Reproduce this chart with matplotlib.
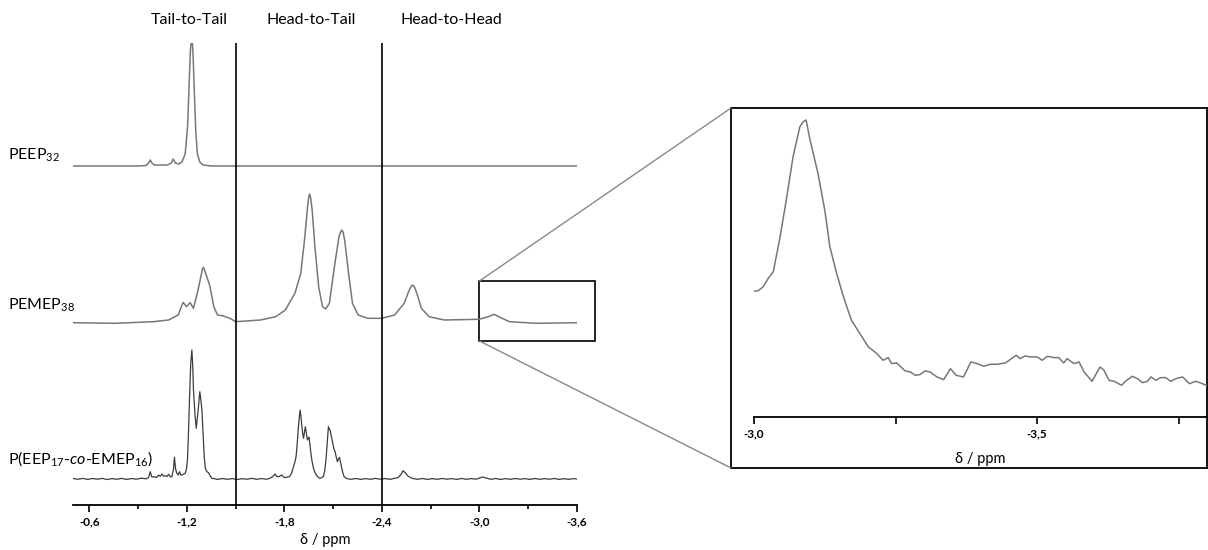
import numpy as np
import matplotlib.pyplot as plt
from matplotlib.patches import Rectangle, ConnectionPatch

plt.rcParams['font.family'] = ['Lato', 'DejaVu Sans']
plt.rcParams['mathtext.fontset'] = 'custom'
plt.rcParams['mathtext.rm'] = 'Lato'
plt.rcParams['mathtext.it'] = 'Lato:italic'
plt.rcParams['mathtext.default'] = 'regular'

# 31P NMR spectra, chemical shift (ppm) and intensity (a.u.)
peep_ppm = [-0.50, -0.90, -0.95, -0.965, -0.975, -0.985, -1.00, -1.08, -1.105, -1.116, -1.13,
            -1.15, -1.17, -1.19, -1.205, -1.215, -1.222, -1.228, -1.231, -1.234, -1.240,
            -1.245, -1.255, -1.265, -1.28, -1.30, -1.35, -3.60]
peep_int = [0, 0, 0.5, 3, 6, 3, 1, 1, 3, 7, 3,
            2, 4, 12, 40, 85, 115, 126, 128, 125, 105,
            80, 35, 12, 4, 1, 0, 0]

pemep_ppm = [-0.499, -0.758, -0.993, -1.088, -1.147, -1.177, -1.198, -1.220, -1.241, -1.269,
             -1.290, -1.296, -1.302, -1.309, -1.323, -1.342, -1.366, -1.389, -1.418, -1.465,
             -1.50, -1.653, -1.747, -1.806, -1.865, -1.901, -1.924, -1.943, -1.949, -1.955,
             -1.962, -1.971, -1.988, -2.011, -2.035, -2.054, -2.077, -2.108, -2.136, -2.146,
             -2.153, -2.161, -2.171, -2.195, -2.219, -2.254, -2.313, -2.40, -2.478, -2.537,
             -2.568, -2.580, -2.589, -2.600, -2.615, -2.643, -2.690, -2.784, -2.996, -3.055,
             -3.090, -3.126, -3.185, -3.349, -3.609]
pemep_int = [-0.7, -1.3, 0.3, 2, 7, 19.7, 15.3, 19.3, 13.7, 32,
             48, 53, 54.7, 52, 45.3, 36, 15.3, 7, 6.3, 3.7,
             0.3, 2, 5.3, 12, 28.7, 48.7, 82, 115.3, 124, 128,
             124, 112, 75.3, 35.3, 15.3, 13, 18.7, 55.3, 85.3, 90,
             92, 90, 82, 48.7, 18.7, 7, 3.7, 3.7, 7, 18.7,
             32, 35.5, 37, 35, 28.7, 13.7, 5.3, 2, 2.7, 5.3,
             7.7, 4.7, 0.3, -1.3, -0.7]

copo_ppm = [-0.50, -0.53, -0.56, -0.59, -0.62, -0.65, -0.68, -0.71, -0.74, -0.77, -0.80, -0.83,
            -0.86, -0.89, -0.92, -0.95, -0.965, -0.975, -0.985, -1.00, -1.015, -1.026, -1.036,
            -1.047, -1.057, -1.067, -1.078, -1.088, -1.100, -1.108, -1.118, -1.124, -1.131,
            -1.139, -1.147, -1.155, -1.163, -1.170, -1.180, -1.190, -1.198, -1.204, -1.210,
            -1.217, -1.224, -1.231, -1.236, -1.241, -1.250, -1.258, -1.268, -1.280, -1.286,
            -1.293, -1.300, -1.307, -1.315, -1.324, -1.334, -1.344, -1.354, -1.37, -1.39,
            -1.42, -1.45, -1.48, -1.51, -1.54, -1.57, -1.60, -1.63, -1.66, -1.69, -1.712,
            -1.725, -1.743, -1.753, -1.763, -1.773, -1.784, -1.795, -1.805, -1.818, -1.832,
            -1.845, -1.856, -1.865, -1.872, -1.879, -1.885, -1.891, -1.897, -1.902, -1.907,
            -1.913, -1.918, -1.923, -1.929, -1.936, -1.942, -1.947, -1.952, -1.957, -1.962,
            -1.970, -1.979, -1.99, -2.0, -2.01, -2.02, -2.03, -2.040, -2.048, -2.056, -2.063,
            -2.071, -2.076, -2.081, -2.090, -2.098, -2.105, -2.112, -2.119, -2.126, -2.133,
            -2.139, -2.145, -2.151, -2.160, -2.168, -2.178, -2.188, -2.21, -2.24, -2.27,
            -2.30, -2.33, -2.36, -2.39, -2.42, -2.45, -2.48, -2.50, -2.515, -2.53, -2.545,
            -2.56, -2.575, -2.59, -2.62, -2.65, -2.68, -2.71, -2.74, -2.77, -2.80, -2.83,
            -2.86, -2.89, -2.92, -2.95, -2.98, -3.00, -3.02, -3.04, -3.07, -3.10, -3.13,
            -3.16, -3.19, -3.22, -3.25, -3.28, -3.31, -3.34, -3.37, -3.40, -3.43, -3.46,
            -3.49, -3.52, -3.55, -3.58, -3.60]
copo_int = [0.5, -0.3, 0.6, -0.4, 0.5, -0.2, 0.6, -0.5, 0.4, -0.3, 0.6, -0.4,
            0.5, -0.2, 0.8, 0.2, 1.5, 7.3, 2, 2.3, 1.5, 4, 2.5,
            5, 2.8, 3.3, 2.5, 4.7, 2, 2.3, 10, 21.7, 10,
            5.7, 4, 7.3, 4, 4, 5, 5.7, 10, 19, 45,
            82.3, 115, 129, 115, 89, 65, 50.7, 65.7, 87.3, 80,
            69, 45, 22.3, 10, 7.3, 6.3, 3, 0.7, 0.3, -0.4,
            0.5, -0.3, 0.4, -0.5, 0.3, -0.2, 0.6, -0.3, 0.4, -0.2, 0.7,
            2, 5, 2.5, 2.3, 3, 4, 2, 1.3, 2, 2.3,
            6, 12.3, 17, 22.3, 35, 49, 60, 69, 62, 54,
            45, 40.7, 46, 52.3, 45, 39, 41, 41.7, 35, 27.3,
            18, 10.7, 6, 3.3, 1.5, 0.7, 1.5, 2.3, 8, 19, 35,
            52.3, 50, 49, 42, 35.7, 30, 27.3, 22, 17.3, 20,
            21.7, 17, 12.3, 6, 2.3, 1, 0.3, -0.3, 0.5, -0.4,
            0.4, -0.3, 0.6, -0.2, 0.4, -0.3, 0.7, 1.5, 4, 8.3, 6,
            3, 1.5, 0.5, -0.3, 0.5, -0.4, 0.4, -0.3, 0.5, -0.2, 0.4,
            -0.4, 0.5, -0.3, 0.4, -0.2, 1, 2, 1, -0.3, 0.5, -0.4,
            0.4, -0.3, 0.5, -0.2, 0.4, -0.4, 0.5, -0.3, 0.4, -0.2, 0.5,
            -0.4, 0.3, -0.3, 0.4, 0]

# zoomed region of PEMEP38
zoom_ppm = [-3.000, -3.007, -3.016, -3.025, -3.034, -3.045, -3.057, -3.069, -3.081, -3.087,
            -3.092, -3.099, -3.113, -3.125, -3.134, -3.146, -3.158, -3.172, -3.187, -3.202,
            -3.217, -3.228, -3.237, -3.243, -3.252, -3.267, -3.276, -3.285, -3.293, -3.302,
            -3.311, -3.323, -3.335, -3.347, -3.357, -3.370, -3.383, -3.394, -3.406, -3.417,
            -3.429, -3.444, -3.463, -3.470, -3.479, -3.488, -3.500, -3.509, -3.518, -3.530,
            -3.538, -3.547, -3.553, -3.565, -3.574, -3.583, -3.597, -3.611, -3.618, -3.627,
            -3.636, -3.649, -3.656, -3.668, -3.677, -3.686, -3.695, -3.701, -3.710, -3.718,
            -3.727, -3.736, -3.745, -3.757, -3.769, -3.780, -3.789, -3.801]
zoom_int = [377, 378, 390, 415, 435, 530, 650, 780, 870, 885,
            890, 830, 730, 620, 510, 430, 360, 290, 250, 210,
            190, 170, 178, 160, 162, 138, 135, 125, 127, 138,
            135, 120, 112, 145, 125, 120, 165, 160, 152, 158,
            158, 162, 185, 175, 183, 180, 180, 170, 182, 178,
            178, 162, 175, 160, 165, 135, 107, 150, 140, 110,
            107, 95, 107, 122, 115, 103, 107, 120, 110, 118,
            118, 107, 115, 120, 100, 107, 102, 93]

main_ticks = [-0.6, -1.2, -1.8, -2.4, -3.0, -3.6]
main_ticklabels = ['-0,6', '-1,2', '-1,8', '-2,4', '-3,0', '-3,6']
zoom_ticks = [-3.0, -3.5]
zoom_ticklabels = ['-3,0', '-3,5']
region_edges = [-1.5, -2.4]
regions = ['Tail-to-Tail', 'Head-to-Tail', 'Head-to-Head']
region_pos = [-1.217, -1.964, -2.83]

W, H = 1208, 550
fig = plt.figure(figsize=(W / 100, H / 100), dpi=100)


def px_rect(l, t, r, b):
    return [l / W, 1 - b / H, (r - l) / W, (b - t) / H]


gray = '#777777'
ax = fig.add_axes(px_rect(73, 43, 577, 505))
ax.plot(peep_ppm, np.array(peep_int) + 339, color=gray, lw=1.1)
ax.plot(pemep_ppm, np.array(pemep_int) + 183, color=gray, lw=1.1)
ax.plot(copo_ppm, np.array(copo_int) + 26, color='#3c3c3c', lw=0.9)
for e in region_edges:
    ax.axvline(e, color='black', lw=1.2)
for name, p in zip(regions, region_pos):
    ax.text(p, 485, name, ha='center', va='center', fontsize=11.5, clip_on=False)

ax.set_xlim(-0.5, -3.6)
ax.set_ylim(0, 462)
for s in ['left', 'right', 'top']:
    ax.spines[s].set_visible(False)
ax.spines['bottom'].set_linewidth(1.3)
ax.set_yticks([])
ax.set_xticks(main_ticks)
ax.set_xticklabels(main_ticklabels, fontsize=8.5, fontweight='bold')
ax.set_xticks([-0.9, -1.5, -2.1, -2.7, -3.3], minor=True)
ax.tick_params(axis='x', which='major', length=5, width=1.2, pad=3)
ax.tick_params(axis='x', which='minor', length=3, width=1.2)
ax.set_xlabel('δ / ppm', fontsize=10.5, labelpad=4)

# box marking zoomed region
box = Rectangle((-3.0, 164), -0.71, 60, fill=False, ec='black', lw=1.2, clip_on=False)
ax.add_patch(box)

fig.text(8 / W, 1 - 160 / H, 'PEEP$_{32}$', fontsize=11.5, va='baseline')
fig.text(8 / W, 1 - 310 / H, 'PEMEP$_{38}$', fontsize=11.5, va='baseline')
fig.text(8 / W, 1 - 464 / H, 'P(EEP$_{17}$-$\\it{co}$-EMEP$_{16}$)', fontsize=11.5, va='baseline')

# inset frame
frame = fig.add_axes(px_rect(731, 108, 1207, 468))
frame.set_xticks([])
frame.set_yticks([])
for s in frame.spines.values():
    s.set_linewidth(1.3)

axz = fig.add_axes(px_rect(754, 108, 1207, 417))
axz.patch.set_alpha(0)
axz.plot(zoom_ppm, zoom_int, color=gray, lw=1.1)
axz.set_xlim(-3.0, -3.8)
axz.set_ylim(0, 926)
for s in ['left', 'right', 'top']:
    axz.spines[s].set_visible(False)
axz.spines['bottom'].set_linewidth(1.3)
axz.set_yticks([])
axz.set_xticks(zoom_ticks)
axz.set_xticklabels(zoom_ticklabels, fontsize=8.5, fontweight='bold')
axz.set_xticks([-3.25, -3.75], minor=True)
axz.tick_params(axis='x', which='both', length=5, width=1.2, pad=3)
axz.set_xlabel('δ / ppm', fontsize=10.5, labelpad=9)

# connectors
for yb, yf in [(224, 1), (164, 0)]:
    con = ConnectionPatch(xyA=(-3.0, yb), coordsA=ax.transData,
                          xyB=(0, yf), coordsB=frame.transAxes,
                          color='#888888', lw=1.0)
    fig.add_artist(con)

fig.savefig('out.png', dpi=100)
